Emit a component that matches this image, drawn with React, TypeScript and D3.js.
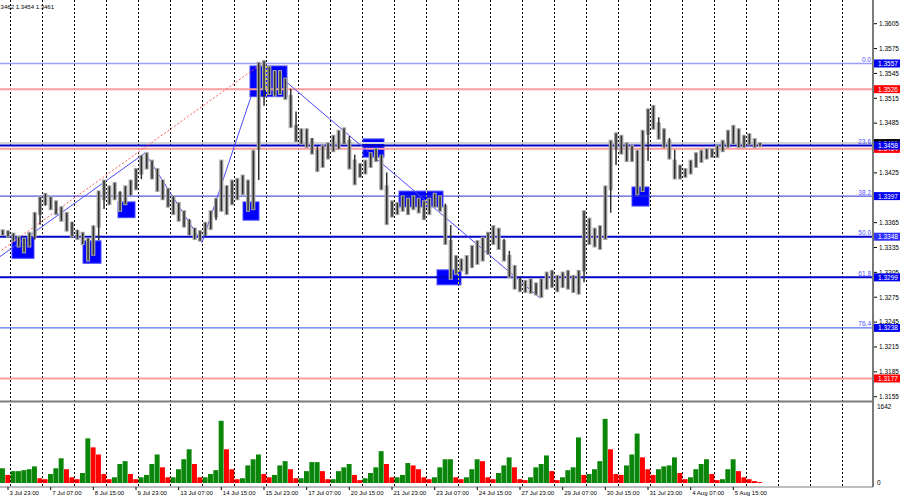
import React from "react";
import * as d3 from "d3";

// H1 bars sampled every 4 bars (high / low / tick volume)
const HIGH = [
  1.3357, 1.3356, 1.3353, 1.3349, 1.3347, 1.3354, 1.3378, 1.3397, 1.3401, 1.3397,
  1.3392, 1.3385, 1.3378, 1.3366, 1.3356, 1.3354, 1.3347, 1.3362, 1.3404, 1.3417,
  1.341, 1.3414, 1.3402, 1.341, 1.3417, 1.3431, 1.3447, 1.345, 1.3441, 1.3431,
  1.3417, 1.3407, 1.3398, 1.339, 1.338, 1.3368, 1.3359, 1.3356, 1.3366, 1.338,
  1.3395, 1.3441, 1.341, 1.3417, 1.3419, 1.3423, 1.3417, 1.3453, 1.3559, 1.3561,
  1.3554, 1.3549, 1.3549, 1.354, 1.3519, 1.3483, 1.3479, 1.3479, 1.3467, 1.3453,
  1.3459, 1.3462, 1.3471, 1.3477, 1.348, 1.3465, 1.3441, 1.3437, 1.3441, 1.345,
  1.3455, 1.3447, 1.341, 1.3392, 1.339, 1.3398, 1.3395, 1.3398, 1.3395, 1.3392,
  1.3395, 1.3401, 1.3398, 1.3386, 1.3344, 1.3326, 1.3322, 1.3326, 1.3338, 1.3344,
  1.3348, 1.3354, 1.3362, 1.3359, 1.3344, 1.3326, 1.3314, 1.3298, 1.3296, 1.3298,
  1.3293, 1.3298, 1.3306, 1.3308, 1.3302, 1.3306, 1.3308, 1.3302, 1.3308, 1.338,
  1.3371, 1.3359, 1.3362, 1.341, 1.3465, 1.3474, 1.3471, 1.3462, 1.3459, 1.3453,
  1.3477, 1.3503, 1.3507, 1.3486, 1.3479, 1.3465, 1.3441, 1.3435, 1.3431, 1.3441,
  1.345, 1.3453, 1.3455, 1.3455, 1.3459, 1.3465, 1.3477, 1.3483, 1.3479, 1.3471,
  1.3473, 1.3467, 1.3462,
];
const LOW = [
  1.3349, 1.3347, 1.3342, 1.3335, 1.3328, 1.3335, 1.3347, 1.3374, 1.3386, 1.338,
  1.3374, 1.3366, 1.3354, 1.3347, 1.3344, 1.3338, 1.3318, 1.3325, 1.3359, 1.3392,
  1.3386, 1.3392, 1.3378, 1.3386, 1.3398, 1.3404, 1.3423, 1.3429, 1.3417, 1.3402,
  1.3392, 1.3383, 1.3374, 1.3366, 1.3359, 1.3349, 1.3344, 1.3342, 1.3349, 1.3356,
  1.3371, 1.3378, 1.3374, 1.3386, 1.3392, 1.3398, 1.3378, 1.338, 1.3453, 1.3525,
  1.3519, 1.3517, 1.3519, 1.3513, 1.3479, 1.3462, 1.3459, 1.3455, 1.3447, 1.3426,
  1.3431, 1.3441, 1.345, 1.3453, 1.3459, 1.3429, 1.341, 1.3419, 1.3423, 1.3431,
  1.3438, 1.3404, 1.3362, 1.3371, 1.3374, 1.3378, 1.3374, 1.338, 1.3376, 1.3368,
  1.3374, 1.3383, 1.3378, 1.3338, 1.3296, 1.3302, 1.3306, 1.3302, 1.331, 1.3314,
  1.3318, 1.3326, 1.3338, 1.3332, 1.3318, 1.3298, 1.3284, 1.3281, 1.328, 1.3279,
  1.3277, 1.3274, 1.3284, 1.3286, 1.3281, 1.3286, 1.3284, 1.328, 1.3278, 1.3306,
  1.3338, 1.3335, 1.3332, 1.3344, 1.3404, 1.3453, 1.3447, 1.3438, 1.3438, 1.3398,
  1.3402, 1.3471, 1.3477, 1.3465, 1.3455, 1.3441, 1.3417, 1.3417, 1.3419, 1.3423,
  1.3431, 1.3437, 1.3441, 1.3443, 1.3443, 1.345, 1.3455, 1.3459, 1.3455, 1.3455,
  1.3458, 1.3455, 1.3456,
];
const VOLUME = [
  310, 170, 250, 250, 270, 290, 350, 100, 80, 190,
  310, 520, 290, 120, 80, 210, 940, 750, 600, 190,
  80, 120, 400, 460, 190, 80, 120, 170, 400, 600,
  330, 120, 120, 290, 500, 710, 400, 120, 120, 190,
  270, 1310, 710, 290, 80, 100, 370, 500, 600, 190,
  120, 170, 370, 460, 290, 100, 100, 250, 440, 440,
  250, 80, 80, 250, 330, 400, 170, 60, 100, 210,
  330, 670, 400, 120, 120, 170, 420, 370, 290, 120,
  80, 120, 330, 500, 500, 120, 80, 120, 290, 500,
  460, 120, 80, 210, 370, 540, 330, 80, 60, 120,
  330, 400, 580, 250, 60, 120, 270, 330, 960, 170,
  190, 290, 460, 1350, 710, 190, 170, 370, 600, 1040,
  540, 290, 170, 290, 350, 370, 540, 210, 80, 120,
  290, 400, 500, 190, 60, 80, 290, 500, 250, 120,
  80, 40, 20,
];
const SAMPLE_BARS = 4;

const TIME_LABELS = [
  "3 Jul 23:00", "7 Jul 07:00", "8 Jul 15:00", "9 Jul 23:00", "13 Jul 07:00", "14 Jul 15:00",
  "15 Jul 23:00", "17 Jul 07:00", "20 Jul 15:00", "21 Jul 23:00", "23 Jul 07:00", "24 Jul 15:00",
  "27 Jul 23:00", "29 Jul 07:00", "30 Jul 15:00", "31 Jul 23:00", "4 Aug 07:00", "5 Aug 15:00",
];

const FIB_LEVELS = ["0.0", "23.6", "38.2", "50.0", "61.8", "76.4"];
const FIB_PRICES = [1.3557, 1.3458, 1.3397, 1.3348, 1.3299, 1.3238];
const RED_LEVELS = [1.3526, 1.3454, 1.3177];
const LAST_PRICE = 1.3461;
const HEADER = "GBPUSD,H1  1.3458 1.3462 1.3454 1.3461";

// [bar, price] pairs
const TREND_LINES = [
  [[0, 1.3324], [108.75, 1.3449]],
  [[108.75, 1.3449], [151.5, 1.3341]],
  [[151.5, 1.3341], [188.25, 1.3517]],
  [[215.25, 1.3534], [405, 1.3274]],
];
const FIB_LINE = [[-167, 1.3138], [196.5, 1.3557]];

// [barFrom, barTo, priceTop, priceBottom]
const BOXES = [
  [9, 25.5, 1.3348, 1.3322],
  [62.25, 75.75, 1.3343, 1.3316],
  [88.5, 101.25, 1.339, 1.3371],
  [182.25, 194.25, 1.339, 1.3368],
  [187.5, 215.25, 1.3554, 1.3517],
  [272.25, 288, 1.3466, 1.3444],
  [299.25, 332.25, 1.3403, 1.3384],
  [327.75, 345.75, 1.3308, 1.329],
  [474, 486.75, 1.3408, 1.3385],
];

const FONT = "Liberation Sans, Arial, sans-serif";
const W = 900;
const H = 500;
const AXIS_X = 873;
const PRICE_BOTTOM = 401;
const VOL_BOTTOM = 487;

export default function App() {
  const x = d3.scaleLinear().domain([0, 24]).range([0, 32]);
  const y = d3.scaleLinear().domain([1.3155, 1.3605]).range([396.7, 23.7]);
  const yv = d3.scaleLinear().domain([0, 1642]).range([483, 405]);

  const priceTicks = d3.range(0, 16).map((k) => 1.3155 + k * 0.003);
  const gridBars = d3.range(0, 27).map((k) => 7.5 + 24 * k);
  const mids = HIGH.map((h, i) => (h + LOW[i]) / 2);
  const line = d3.line<number[]>().x((d) => x(d[0])).y((d) => y(d[1]));
  const step = x(SAMPLE_BARS);

  const fibColors = ["#9c9cff", "#0000c8", "#3030d0", "#0000cc", "#0000cc", "#3050ff"];
  const fibWidths = [1.5, 2, 1, 2, 2, 1];
  const fibBoxColors = ["#0000f0", "#0000f0", "#0000f0", "#3030ff", "#0000f0", "#0000f0"];

  const tagBox = (p: number, fill: string, label: string, key: string) => (
    <g key={key}>
      <rect x={AXIS_X + 1} y={y(p) - 4} width={26} height={8} fill={fill} />
      <text x={AXIS_X + 5} y={y(p) + 2.5} fontSize={6.5} fill="#fff" fontFamily={FONT}>{label}</text>
    </g>
  );

  return (
    <svg width={W} height={H} style={{ position: "absolute", left: 0, top: 0, background: "#fff" }}>
      <defs>
        <clipPath id="pricePanel">
          <rect x={0} y={0} width={AXIS_X} height={PRICE_BOTTOM} />
        </clipPath>
      </defs>
      <rect x={0} y={0} width={W} height={H} fill="#fff" />

      {/* vertical grid */}
      {gridBars.map((b) => (
        <line key={`g${b}`} x1={Math.round(x(b)) + 0.5} x2={Math.round(x(b)) + 0.5} y1={0} y2={VOL_BOTTOM}
          stroke="#000" strokeWidth={1} strokeDasharray="2,2" />
      ))}

      <g clipPath="url(#pricePanel)">
        {/* boxes */}
        {BOXES.map((b, i) => (
          <rect key={`b${i}`} x={x(b[0])} y={y(b[2])} width={x(b[1]) - x(b[0])} height={y(b[3]) - y(b[2])}
            fill="#0000ff" stroke="#4848ff" strokeWidth={1} />
        ))}
        {BOXES.map((b, i) =>
          gridBars.filter((g) => g > b[0] && g < b[1]).map((g) => (
            <line key={`yb${i}-${g}`} x1={Math.round(x(g)) + 0.5} x2={Math.round(x(g)) + 0.5} y1={y(b[2])} y2={y(b[3])}
              stroke="#ffff00" strokeWidth={1} strokeDasharray="2,2" />
          ))
        )}

        {/* horizontal levels */}
        <line x1={0} x2={AXIS_X} y1={y(LAST_PRICE)} y2={y(LAST_PRICE)} stroke="#d4d4d4" strokeWidth={2} />
        {RED_LEVELS.map((p) => (
          <line key={`r${p}`} x1={0} x2={AXIS_X} y1={y(p)} y2={y(p)} stroke="#ff9c9c" strokeWidth={2} />
        ))}
        {FIB_PRICES.map((p, i) => (
          <g key={`f${i}`}>
            <line x1={0} x2={AXIS_X} y1={y(p)} y2={y(p)} stroke={fibColors[i]} strokeWidth={fibWidths[i]} />
            <text x={AXIS_X - 2} y={y(p) - 1.5} textAnchor="end" fontSize={6.5} fill="#5050ff" fontFamily={FONT}>{FIB_LEVELS[i]}</text>
          </g>
        ))}

        {/* trend lines */}
        <path d={line(FIB_LINE) ?? ""} fill="none" stroke="#ff5a5a" strokeWidth={1} strokeDasharray="2,2" />
        {TREND_LINES.map((l, i) => (
          <path key={`t${i}`} d={line(l) ?? ""} fill="none" stroke="#4a4aff" strokeWidth={1} />
        ))}

        {/* price bars: light range band, dark core */}
        {HIGH.map((h, i) => {
          const cx = x(i * SAMPLE_BARS + 2);
          return (
            <rect key={`cr${i}`} x={cx - step / 2 + 0.6} y={y(h)} width={step - 1.2}
              height={Math.max(1, y(LOW[i]) - y(h))} fill="#a6a6a6" />
          );
        })}
        {HIGH.map((h, i) => {
          const cx = x(i * SAMPLE_BARS + 2);
          const o = i === 0 ? mids[i] : mids[i - 1];
          const c = mids[i];
          const top = Math.min(y(h) + 1, y(Math.max(o, c)));
          const bot = Math.max(y(LOW[i]) - 1, y(Math.min(o, c)));
          return (
            <rect key={`cc${i}`} x={cx - 0.7} y={top} width={1.5} height={Math.max(1.5, bot - top)} fill="#303030" />
          );
        })}
      </g>

      {/* volumes */}
      {VOLUME.map((v, i) => {
        const green = i === 0 || v >= VOLUME[i - 1];
        return (
          <rect key={`v${i}`} x={x(i * SAMPLE_BARS)} y={yv(v)} width={step - 0.4} height={yv(0) - yv(v)}
            fill={green ? "#0a870a" : "#ff0000"} />
        );
      })}

      {/* frame */}
      <line x1={0} x2={AXIS_X} y1={PRICE_BOTTOM + 0.5} y2={PRICE_BOTTOM + 0.5} stroke="#7a7a7a" strokeWidth={2} />
      <line x1={0} x2={AXIS_X} y1={VOL_BOTTOM} y2={VOL_BOTTOM} stroke="#7a7a7a" strokeWidth={1} />
      <line x1={AXIS_X} x2={AXIS_X} y1={0} y2={VOL_BOTTOM} stroke="#7a7a7a" strokeWidth={2} />

      {/* price axis */}
      {priceTicks.map((p) => (
        <g key={`pt${p}`}>
          <line x1={AXIS_X + 1} x2={AXIS_X + 4} y1={y(p)} y2={y(p)} stroke="#000" />
          <text x={AXIS_X + 6} y={y(p) + 2.3} fontSize={6.5} fill="#000" fontFamily={FONT}>{p.toFixed(4)}</text>
        </g>
      ))}
      {tagBox(FIB_PRICES[0], fibBoxColors[0], FIB_PRICES[0].toFixed(4), "tb0")}
      {tagBox(RED_LEVELS[0], "#ff0000", RED_LEVELS[0].toFixed(4), "tr0")}
      {tagBox(RED_LEVELS[1], "#ff0000", RED_LEVELS[1].toFixed(4), "tr1")}
      {tagBox(LAST_PRICE, "#000", LAST_PRICE.toFixed(4), "tl")}
      {FIB_PRICES.slice(1).map((p, i) => tagBox(p, fibBoxColors[i + 1], p.toFixed(4), `tf${i}`))}
      {tagBox(RED_LEVELS[2], "#ff0000", RED_LEVELS[2].toFixed(4), "tr2")}

      {/* volume axis */}
      <text x={AXIS_X + 4} y={yv(1642) + 4} fontSize={6.5} fill="#000" fontFamily={FONT}>1642</text>
      <text x={AXIS_X + 4} y={yv(0) + 2} fontSize={6.5} fill="#000" fontFamily={FONT}>0</text>

      {/* time axis */}
      {TIME_LABELS.map((t, k) => {
        const tx = x(6 + 32 * k);
        return (
          <g key={`tl${k}`}>
            <line x1={tx} x2={tx} y1={VOL_BOTTOM} y2={VOL_BOTTOM + 3} stroke="#000" />
            <text x={tx + 1.5} y={495} fontSize={6} fill="#000" fontFamily={FONT}>{t}</text>
          </g>
        );
      })}

      <text x={54} y={9} textAnchor="end" fontSize={6} fill="#000" fontFamily={FONT}>{HEADER}</text>
    </svg>
  );
}
